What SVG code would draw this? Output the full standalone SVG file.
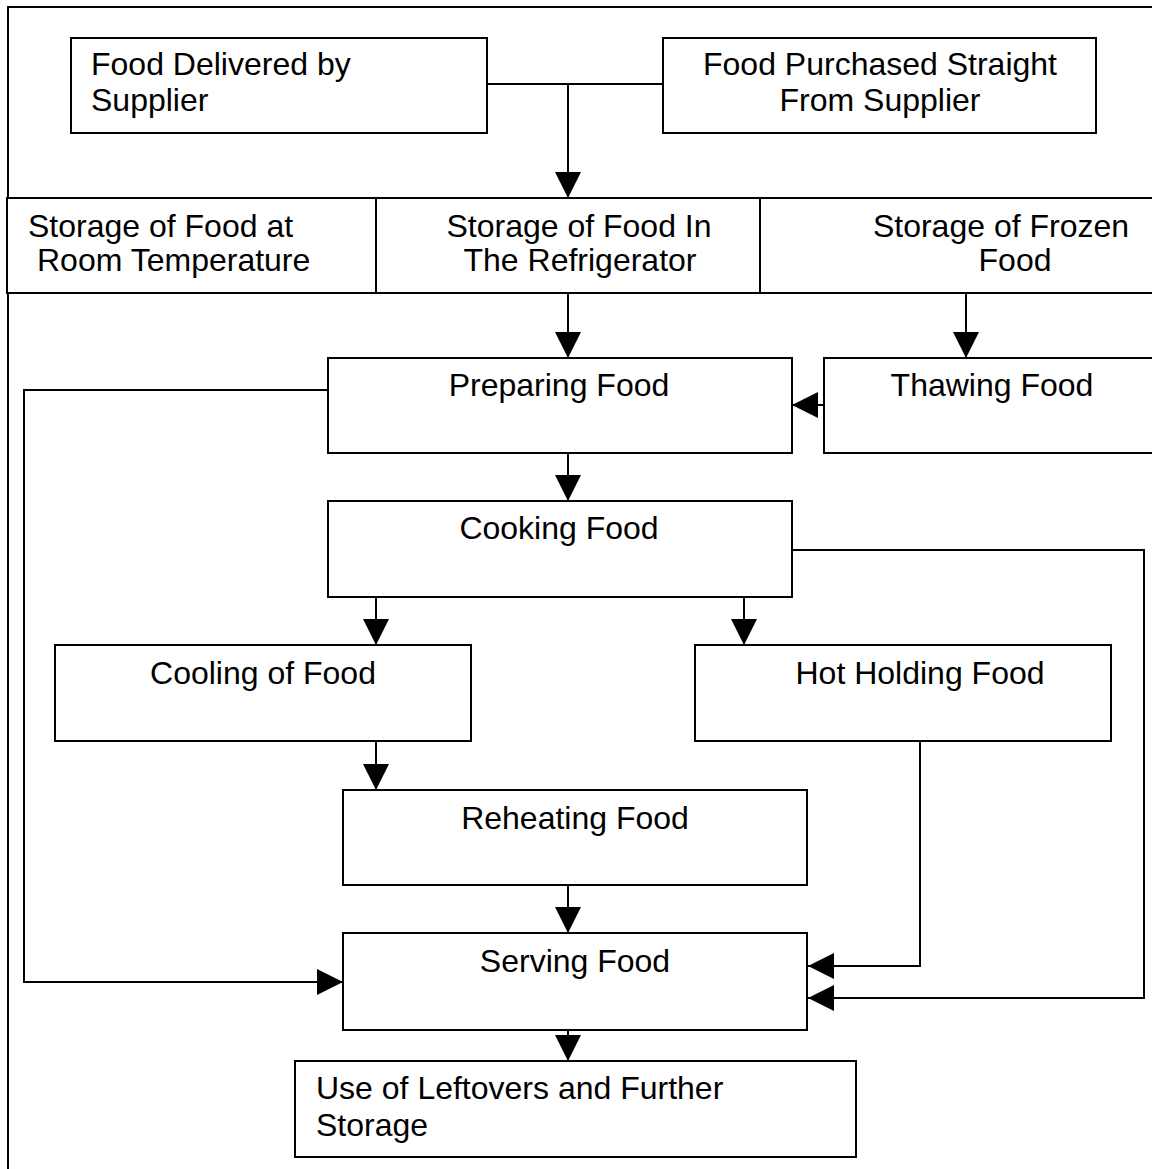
<svg xmlns="http://www.w3.org/2000/svg" width="1152" height="1169" viewBox="0 0 1152 1169">
<style>
.box{fill:#fff;stroke:#000;stroke-width:2}
.frame{fill:none;stroke:#000;stroke-width:2}
text{font-family:"Liberation Sans",Arial,sans-serif;font-size:32px;fill:#000}
.c{text-anchor:middle}
.ln{fill:none;stroke:#000;stroke-width:2}
</style>
<defs>
<marker id="ah" markerWidth="26" markerHeight="26" refX="26" refY="13" orient="auto" markerUnits="userSpaceOnUse">
<path d="M0,0 L26,13 L0,26 Z" fill="#000"/>
</marker>
</defs>
<rect class="frame" x="8" y="7" width="1160" height="1180"/>
<g id="supplier-delivered"><rect class="box" x="71" y="38" width="416" height="95"/><text x="91" y="75">Food Delivered by</text><text x="91" y="111">Supplier</text></g>
<g id="supplier-purchased"><rect class="box" x="663" y="38" width="433" height="95"/><text class="c" x="880" y="75">Food Purchased Straight</text><text class="c" x="880" y="111">From Supplier</text></g>
<g id="storage-room"><rect class="box" x="7" y="198" width="369" height="95"/><text x="28" y="237">Storage of Food at</text><text x="37" y="271">Room Temperature</text></g>
<g id="storage-fridge"><rect class="box" x="376" y="198" width="384" height="95"/><text class="c" x="579" y="237">Storage of Food In</text><text class="c" x="580" y="271">The Refrigerator</text></g>
<g id="storage-frozen"><rect class="box" x="760" y="198" width="410" height="95"/><text class="c" x="1001" y="237">Storage of Frozen</text><text class="c" x="1015" y="271">Food</text></g>
<g id="preparing"><rect class="box" x="328" y="358" width="464" height="95"/><text class="c" x="559" y="396">Preparing Food</text></g>
<g id="thawing"><rect class="box" x="824" y="358" width="346" height="95"/><text class="c" x="992" y="396">Thawing Food</text></g>
<g id="cooking"><rect class="box" x="328" y="501" width="464" height="96"/><text class="c" x="559" y="539">Cooking Food</text></g>
<g id="cooling"><rect class="box" x="55" y="645" width="416" height="96"/><text class="c" x="263" y="684">Cooling of Food</text></g>
<g id="hotholding"><rect class="box" x="695" y="645" width="416" height="96"/><text class="c" x="920" y="684">Hot Holding Food</text></g>
<g id="reheating"><rect class="box" x="343" y="790" width="464" height="95"/><text class="c" x="575" y="829">Reheating Food</text></g>
<g id="serving"><rect class="box" x="343" y="933" width="464" height="97"/><text class="c" x="575" y="972">Serving Food</text></g>
<g id="leftovers"><rect class="box" x="295" y="1061" width="561" height="96"/><text x="316" y="1099">Use of Leftovers and Further</text><text x="316" y="1136">Storage</text></g>
<g id="connectors">
<path class="ln" d="M487,84 H663"/>
<path class="ln" d="M568,84 V198" marker-end="url(#ah)"/>
<path class="ln" d="M568,293 V358" marker-end="url(#ah)"/>
<path class="ln" d="M966,293 V358" marker-end="url(#ah)"/>
<path class="ln" d="M824,405 H792" marker-end="url(#ah)"/>
<path class="ln" d="M568,453 V501" marker-end="url(#ah)"/>
<path class="ln" d="M376,597 V645" marker-end="url(#ah)"/>
<path class="ln" d="M744,597 V645" marker-end="url(#ah)"/>
<path class="ln" d="M376,741 V790" marker-end="url(#ah)"/>
<path class="ln" d="M568,885 V933" marker-end="url(#ah)"/>
<path class="ln" d="M568,1030 V1061" marker-end="url(#ah)"/>
<path class="ln" d="M328,390 H24 V982 H343" marker-end="url(#ah)"/>
<path class="ln" d="M920,741 V966 H808" marker-end="url(#ah)"/>
<path class="ln" d="M792,550 H1144 V998 H808" marker-end="url(#ah)"/>
</g>
</svg>
